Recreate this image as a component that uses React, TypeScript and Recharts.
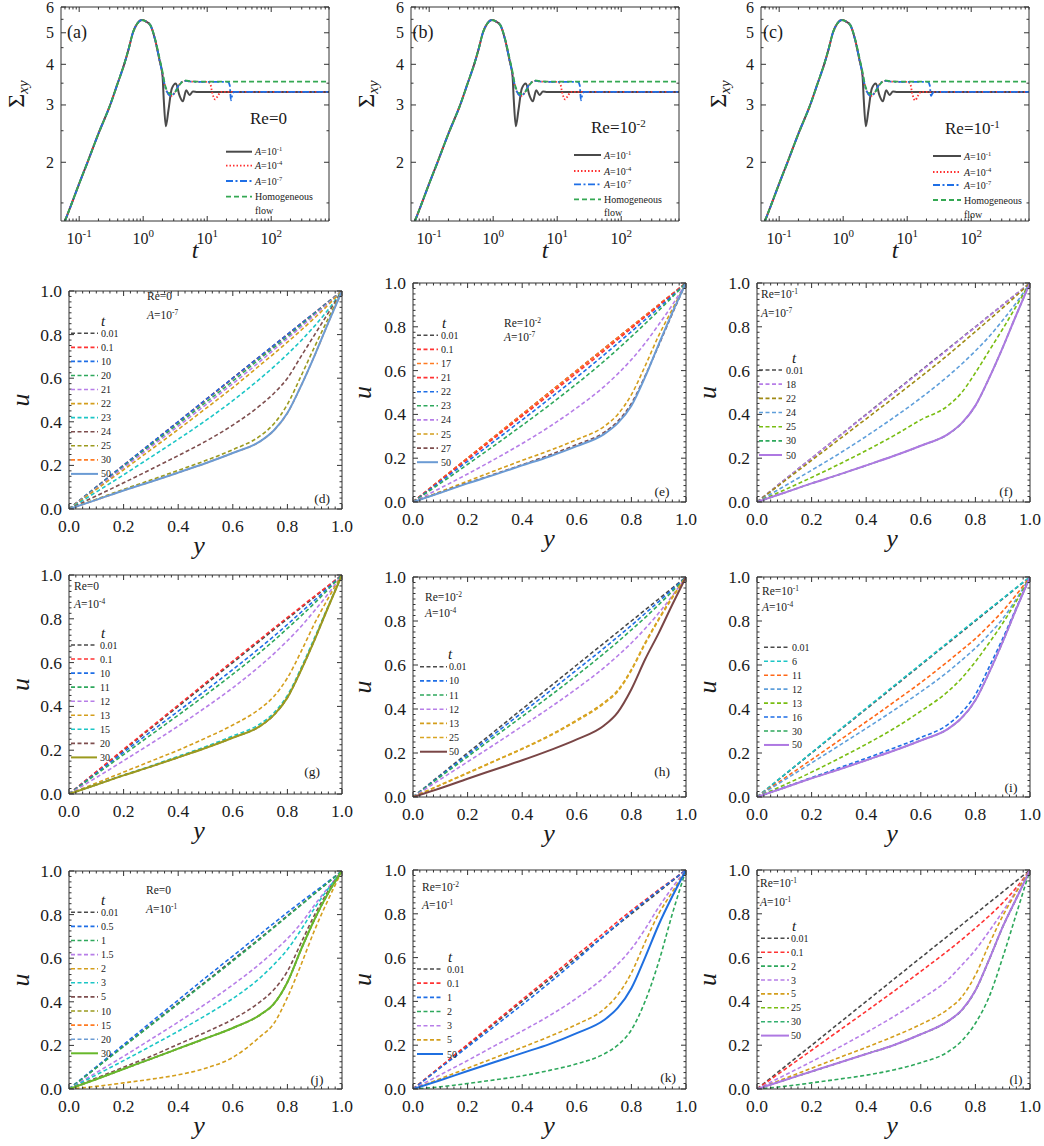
import React from 'react';
import { LineChart, Line, XAxis, YAxis } from 'recharts';

const SERIF = '"Liberation Serif", "Times New Roman", Times, serif';
const AXIS = '#333333';
const INK = '#1a1a1a';
const DASH = '4 2.5';

/* ---------- shear stress growth Σxy(t), panels (a)–(c) ---------- */
const tA1 = [0.06, 0.08, 0.1, 0.135, 0.2, 0.305, 0.4, 0.505, 0.6, 0.69, 0.8, 0.954, 1.1, 1.29, 1.54, 1.8, 2.0, 2.1, 2.26, 2.48, 2.8, 3.24, 3.69, 4.17, 4.7, 5.3, 6.0, 7, 10, 100, 800];
const sA1 = [1.32, 1.53, 1.72, 2.0, 2.45, 3.0, 3.5, 4.0, 4.5, 5.0, 5.32, 5.47, 5.42, 5.28, 4.75, 4.12, 3.71, 3.1, 2.58, 2.89, 3.37, 3.49, 3.21, 3.08, 3.33, 3.22, 3.3, 3.29, 3.29, 3.29, 3.29];

const tA4 = [0.06, 0.08, 0.1, 0.135, 0.2, 0.305, 0.4, 0.505, 0.6, 0.69, 0.8, 0.954, 1.1, 1.29, 1.54, 1.8, 2.0, 2.2, 2.5, 2.75, 3.1, 3.6, 4.5, 5.5, 10, 11.1, 12, 13.3, 14.7, 16.4, 100, 800];
const sA4 = [1.32, 1.53, 1.72, 2.0, 2.45, 3.0, 3.5, 4.0, 4.5, 5.0, 5.32, 5.47, 5.42, 5.28, 4.75, 4.12, 3.74, 3.42, 3.23, 3.2, 3.27, 3.45, 3.56, 3.54, 3.53, 3.5, 3.27, 3.12, 3.2, 3.29, 3.29, 3.29];

const tA7 = [0.06, 0.08, 0.1, 0.135, 0.2, 0.305, 0.4, 0.505, 0.6, 0.69, 0.8, 0.954, 1.1, 1.29, 1.54, 1.8, 2.0, 2.2, 2.5, 2.75, 3.1, 3.6, 4.5, 5.5, 10, 21, 22.5, 23.5, 24.5, 26, 100, 800];
const sA7 = [1.32, 1.53, 1.72, 2.0, 2.45, 3.0, 3.5, 4.0, 4.5, 5.0, 5.32, 5.47, 5.42, 5.28, 4.75, 4.12, 3.74, 3.42, 3.23, 3.2, 3.27, 3.45, 3.56, 3.54, 3.53, 3.53, 3.45, 3.1, 3.2, 3.29, 3.29, 3.29];

const tHom = [0.06, 0.08, 0.1, 0.135, 0.2, 0.305, 0.4, 0.505, 0.6, 0.69, 0.8, 0.954, 1.1, 1.29, 1.54, 1.8, 2.0, 2.2, 2.5, 2.8, 3.2, 3.8, 4.5, 5.5, 7, 10, 100, 800];
const sHom = [1.32, 1.53, 1.72, 2.0, 2.45, 3.0, 3.5, 4.0, 4.5, 5.0, 5.32, 5.47, 5.42, 5.28, 4.78, 4.18, 3.8, 3.45, 3.27, 3.24, 3.3, 3.48, 3.57, 3.55, 3.54, 3.54, 3.54, 3.54];

// Re = 10^-1 differs only in the late dips
const sA4c = [1.32, 1.53, 1.72, 2.0, 2.45, 3.0, 3.5, 4.0, 4.5, 5.0, 5.32, 5.47, 5.42, 5.28, 4.75, 4.12, 3.74, 3.42, 3.23, 3.2, 3.27, 3.45, 3.56, 3.54, 3.53, 3.5, 3.25, 3.1, 3.2, 3.29, 3.29, 3.29];
const sA7c = [1.32, 1.53, 1.72, 2.0, 2.45, 3.0, 3.5, 4.0, 4.5, 5.0, 5.32, 5.47, 5.42, 5.28, 4.75, 4.12, 3.74, 3.42, 3.23, 3.2, 3.27, 3.45, 3.56, 3.54, 3.53, 3.53, 3.45, 3.2, 3.24, 3.29, 3.29, 3.29];

const tMajor = [0.1, 1, 10, 100];
const tMinor = [0.06, 0.07, 0.08, 0.09, 0.2, 0.3, 0.4, 0.5, 0.6, 0.7, 0.8, 0.9, 2, 3, 4, 5, 6, 7, 8, 9, 20, 30, 40, 50, 60, 70, 80, 90, 200, 300, 400, 500, 600, 700, 800];
const sigMajor = [2, 3, 4, 5, 6];
const sigMinor = [1.5, 2.5, 3.5, 4.5, 5.5];

/* ---------- velocity profiles u(y), panels (d)–(l) ---------- */
const yGrid = [0, 0.1, 0.2, 0.3, 0.4, 0.5, 0.6, 0.7, 0.75, 0.8, 0.85, 0.9, 0.95, 1.0];
const uMajor = [0, 0.2, 0.4, 0.6, 0.8, 1.0];

// (d) Re=0, A=1e-7
const d001 = [0, 0.1, 0.2, 0.3, 0.4, 0.5, 0.6, 0.7, 0.75, 0.8, 0.85, 0.9, 0.95, 1];
const d01 = [0, 0.1, 0.2, 0.3, 0.4, 0.5, 0.6, 0.7, 0.75, 0.8, 0.85, 0.9, 0.95, 1];
const d10 = [0, 0.101, 0.201, 0.301, 0.401, 0.501, 0.601, 0.701, 0.751, 0.801, 0.851, 0.9, 0.95, 1];
const d20 = [0, 0.098, 0.195, 0.293, 0.39, 0.488, 0.587, 0.69, 0.74, 0.79, 0.843, 0.895, 0.948, 1];
const d21 = [0, 0.095, 0.19, 0.285, 0.38, 0.477, 0.575, 0.677, 0.73, 0.782, 0.835, 0.89, 0.945, 1];
const d22 = [0, 0.09, 0.18, 0.272, 0.365, 0.46, 0.557, 0.66, 0.712, 0.765, 0.82, 0.877, 0.937, 1];
const d23 = [0, 0.078, 0.157, 0.238, 0.32, 0.405, 0.497, 0.598, 0.652, 0.71, 0.772, 0.84, 0.915, 1];
const d24 = [0, 0.06, 0.12, 0.182, 0.245, 0.31, 0.385, 0.475, 0.53, 0.6, 0.7, 0.8, 0.9, 1];
const d25 = [0, 0.045, 0.09, 0.133, 0.177, 0.222, 0.272, 0.335, 0.39, 0.48, 0.61, 0.745, 0.875, 1];
const d30 = [0, 0.042, 0.085, 0.125, 0.167, 0.21, 0.257, 0.31, 0.36, 0.44, 0.565, 0.705, 0.855, 1];
const d50 = [0, 0.042, 0.085, 0.125, 0.167, 0.21, 0.257, 0.31, 0.36, 0.44, 0.565, 0.705, 0.855, 1];

// (e) Re=1e-2, A=1e-7
const e001 = [0, 0.1, 0.2, 0.3, 0.4, 0.5, 0.6, 0.7, 0.75, 0.8, 0.85, 0.9, 0.95, 1];
const e01 = [0, 0.1, 0.2, 0.3, 0.4, 0.5, 0.6, 0.7, 0.75, 0.8, 0.85, 0.9, 0.95, 1];
const e17 = [0, 0.101, 0.201, 0.301, 0.401, 0.501, 0.601, 0.701, 0.751, 0.801, 0.851, 0.9, 0.95, 1];
const e21 = [0, 0.098, 0.196, 0.294, 0.392, 0.49, 0.59, 0.69, 0.742, 0.793, 0.845, 0.896, 0.948, 1];
const e22 = [0, 0.093, 0.186, 0.28, 0.375, 0.472, 0.57, 0.672, 0.725, 0.778, 0.832, 0.886, 0.942, 1];
const e23 = [0, 0.085, 0.172, 0.26, 0.35, 0.443, 0.54, 0.643, 0.698, 0.755, 0.814, 0.874, 0.936, 1];
const e24 = [0, 0.063, 0.128, 0.196, 0.267, 0.344, 0.43, 0.527, 0.585, 0.65, 0.725, 0.81, 0.9, 1];
const e25 = [0, 0.047, 0.095, 0.143, 0.19, 0.235, 0.285, 0.345, 0.4, 0.49, 0.62, 0.76, 0.88, 1];
const e27 = [0, 0.043, 0.087, 0.128, 0.17, 0.215, 0.262, 0.318, 0.368, 0.45, 0.575, 0.715, 0.86, 1];
const e50 = [0, 0.042, 0.085, 0.125, 0.167, 0.208, 0.255, 0.31, 0.36, 0.44, 0.57, 0.72, 0.865, 1];

// (f) Re=1e-1, A=1e-7
const f001 = [0, 0.1, 0.2, 0.3, 0.4, 0.5, 0.6, 0.7, 0.75, 0.8, 0.85, 0.9, 0.95, 1];
const f18 = [0, 0.1, 0.2, 0.299, 0.398, 0.497, 0.597, 0.697, 0.748, 0.798, 0.849, 0.9, 0.95, 1];
const f22 = [0, 0.095, 0.19, 0.285, 0.38, 0.475, 0.572, 0.672, 0.725, 0.778, 0.832, 0.886, 0.942, 1];
const f24 = [0, 0.072, 0.145, 0.22, 0.3, 0.385, 0.475, 0.575, 0.63, 0.69, 0.755, 0.83, 0.91, 1];
const f25 = [0, 0.055, 0.112, 0.172, 0.235, 0.302, 0.375, 0.44, 0.5, 0.59, 0.69, 0.79, 0.895, 1];
const f30 = [0, 0.042, 0.085, 0.125, 0.167, 0.21, 0.257, 0.31, 0.36, 0.44, 0.565, 0.705, 0.855, 1];
const f50 = [0, 0.042, 0.085, 0.125, 0.167, 0.21, 0.257, 0.31, 0.36, 0.44, 0.565, 0.705, 0.855, 1];

// (g) Re=0, A=1e-4
const g001 = [0, 0.1, 0.2, 0.3, 0.4, 0.5, 0.6, 0.7, 0.75, 0.8, 0.85, 0.9, 0.95, 1];
const g01 = [0, 0.102, 0.204, 0.305, 0.406, 0.507, 0.607, 0.707, 0.757, 0.806, 0.855, 0.904, 0.952, 1];
const g10 = [0, 0.095, 0.19, 0.285, 0.378, 0.472, 0.568, 0.668, 0.72, 0.774, 0.83, 0.885, 0.942, 1];
const g11 = [0, 0.09, 0.18, 0.27, 0.36, 0.452, 0.547, 0.647, 0.7, 0.756, 0.813, 0.872, 0.935, 1];
const g12 = [0, 0.075, 0.152, 0.23, 0.31, 0.395, 0.485, 0.585, 0.64, 0.7, 0.765, 0.838, 0.915, 1];
const g13 = [0, 0.05, 0.1, 0.15, 0.2, 0.255, 0.315, 0.39, 0.445, 0.53, 0.65, 0.78, 0.895, 1];
const g15 = [0, 0.043, 0.087, 0.128, 0.172, 0.216, 0.265, 0.32, 0.37, 0.45, 0.575, 0.715, 0.86, 1];
const g20 = [0, 0.042, 0.085, 0.125, 0.167, 0.21, 0.257, 0.31, 0.36, 0.44, 0.565, 0.705, 0.855, 1];
const g30 = [0, 0.042, 0.085, 0.125, 0.167, 0.21, 0.257, 0.31, 0.36, 0.44, 0.565, 0.705, 0.855, 1];

// (h) Re=1e-2, A=1e-4
const h001 = [0, 0.1, 0.2, 0.3, 0.4, 0.5, 0.6, 0.7, 0.75, 0.8, 0.85, 0.9, 0.95, 1];
const h10 = [0, 0.096, 0.192, 0.288, 0.384, 0.48, 0.578, 0.677, 0.728, 0.78, 0.834, 0.888, 0.944, 1];
const h11 = [0, 0.092, 0.183, 0.275, 0.366, 0.458, 0.553, 0.653, 0.705, 0.76, 0.815, 0.874, 0.935, 1];
const h12 = [0, 0.08, 0.16, 0.24, 0.322, 0.405, 0.493, 0.588, 0.642, 0.7, 0.765, 0.836, 0.915, 1];
const h13 = [0, 0.055, 0.11, 0.165, 0.22, 0.28, 0.35, 0.43, 0.485, 0.58, 0.7, 0.81, 0.91, 1];
const h25 = [0, 0.054, 0.108, 0.163, 0.218, 0.277, 0.346, 0.425, 0.48, 0.575, 0.695, 0.805, 0.905, 1];
const h50 = [0, 0.04, 0.083, 0.125, 0.167, 0.212, 0.262, 0.325, 0.385, 0.49, 0.625, 0.745, 0.875, 1];

// (i) Re=1e-1, A=1e-4
const i001 = [0, 0.1, 0.2, 0.3, 0.4, 0.5, 0.6, 0.7, 0.75, 0.8, 0.85, 0.9, 0.95, 1];
const i6 = [0, 0.101, 0.202, 0.303, 0.404, 0.504, 0.604, 0.704, 0.754, 0.804, 0.854, 0.903, 0.952, 1];
const i11 = [0, 0.085, 0.17, 0.256, 0.342, 0.43, 0.52, 0.617, 0.668, 0.72, 0.78, 0.845, 0.92, 1];
const i12 = [0, 0.077, 0.155, 0.233, 0.312, 0.393, 0.478, 0.57, 0.622, 0.677, 0.74, 0.81, 0.9, 1];
const i13 = [0, 0.055, 0.113, 0.175, 0.24, 0.31, 0.39, 0.48, 0.54, 0.615, 0.7, 0.79, 0.89, 1];
const i16 = [0, 0.044, 0.088, 0.132, 0.176, 0.222, 0.27, 0.33, 0.385, 0.465, 0.59, 0.72, 0.86, 1];
const i30 = [0, 0.042, 0.085, 0.125, 0.167, 0.21, 0.257, 0.31, 0.36, 0.44, 0.565, 0.705, 0.855, 1];
const i50 = [0, 0.042, 0.085, 0.125, 0.167, 0.21, 0.257, 0.31, 0.36, 0.44, 0.565, 0.705, 0.855, 1];

// (j) Re=0, A=1e-1
const j001 = [0, 0.098, 0.197, 0.295, 0.394, 0.492, 0.592, 0.692, 0.743, 0.795, 0.846, 0.897, 0.949, 1];
const j05 = [0, 0.102, 0.204, 0.306, 0.408, 0.51, 0.61, 0.71, 0.76, 0.81, 0.858, 0.905, 0.952, 1];
const j1 = [0, 0.097, 0.195, 0.292, 0.39, 0.488, 0.587, 0.688, 0.74, 0.792, 0.844, 0.896, 0.948, 1];
const j15 = [0, 0.075, 0.15, 0.228, 0.307, 0.39, 0.478, 0.575, 0.63, 0.69, 0.76, 0.845, 0.925, 1];
const j2 = [0, 0.012, 0.028, 0.045, 0.065, 0.095, 0.145, 0.24, 0.3, 0.42, 0.57, 0.73, 0.87, 1];
const j3 = [0, 0.065, 0.13, 0.197, 0.265, 0.337, 0.415, 0.51, 0.57, 0.64, 0.73, 0.83, 0.92, 1];
const j5 = [0, 0.05, 0.1, 0.15, 0.205, 0.26, 0.32, 0.4, 0.455, 0.54, 0.67, 0.8, 0.91, 1];
const j10 = [0, 0.045, 0.092, 0.138, 0.185, 0.232, 0.28, 0.34, 0.39, 0.49, 0.64, 0.78, 0.9, 1];
const j15b = [0, 0.045, 0.092, 0.138, 0.185, 0.232, 0.28, 0.34, 0.39, 0.49, 0.64, 0.78, 0.9, 1];
const j20 = [0, 0.045, 0.092, 0.138, 0.185, 0.232, 0.28, 0.34, 0.39, 0.49, 0.64, 0.78, 0.9, 1];
const j30 = [0, 0.045, 0.092, 0.138, 0.185, 0.232, 0.28, 0.34, 0.39, 0.49, 0.64, 0.78, 0.9, 1];

// (k) Re=1e-2, A=1e-1
const k001 = [0, 0.1, 0.2, 0.3, 0.4, 0.5, 0.6, 0.7, 0.75, 0.8, 0.85, 0.9, 0.95, 1];
const k01 = [0, 0.102, 0.204, 0.306, 0.408, 0.51, 0.612, 0.713, 0.765, 0.815, 0.862, 0.91, 0.955, 1];
const k1 = [0, 0.096, 0.192, 0.288, 0.385, 0.485, 0.59, 0.7, 0.753, 0.806, 0.857, 0.906, 0.953, 1];
const k2 = [0, 0.01, 0.025, 0.042, 0.06, 0.085, 0.115, 0.16, 0.2, 0.27, 0.4, 0.58, 0.8, 1];
const k3 = [0, 0.065, 0.13, 0.198, 0.265, 0.335, 0.415, 0.51, 0.57, 0.64, 0.73, 0.83, 0.92, 1];
const k5 = [0, 0.047, 0.095, 0.143, 0.19, 0.24, 0.295, 0.365, 0.43, 0.53, 0.67, 0.8, 0.9, 1];
const k50 = [0, 0.04, 0.082, 0.123, 0.164, 0.205, 0.255, 0.315, 0.37, 0.46, 0.6, 0.75, 0.88, 1];

// (l) Re=1e-1, A=1e-1
const l001 = [0, 0.1, 0.2, 0.3, 0.4, 0.5, 0.6, 0.7, 0.75, 0.8, 0.85, 0.9, 0.95, 1];
const l01 = [0, 0.088, 0.177, 0.266, 0.355, 0.445, 0.537, 0.632, 0.682, 0.735, 0.79, 0.85, 0.92, 1];
const l2 = [0, 0.012, 0.028, 0.045, 0.063, 0.087, 0.12, 0.17, 0.22, 0.3, 0.42, 0.6, 0.8, 1];
const l3 = [0, 0.062, 0.125, 0.19, 0.258, 0.33, 0.41, 0.5, 0.565, 0.635, 0.72, 0.81, 0.905, 1];
const l5 = [0, 0.047, 0.095, 0.143, 0.19, 0.24, 0.295, 0.365, 0.42, 0.52, 0.66, 0.79, 0.9, 1];
const l25 = [0, 0.04, 0.08, 0.12, 0.16, 0.2, 0.25, 0.31, 0.36, 0.45, 0.59, 0.74, 0.87, 1];
const l30 = [0, 0.04, 0.08, 0.12, 0.16, 0.2, 0.25, 0.31, 0.36, 0.45, 0.59, 0.74, 0.87, 1];
const l50 = [0, 0.04, 0.08, 0.12, 0.16, 0.2, 0.25, 0.31, 0.36, 0.45, 0.59, 0.74, 0.87, 1];

/* ---------- styling ---------- */
const COL = {
  gray: '#4a4a4a', red: '#ff3333', blue: '#1e6ee6', green: '#2ea85c', lilac: '#b77ee8',
  gold: '#d49e1c', cyan: '#1cc6c6', brown: '#7e4e4e', olive: '#9b9a1e', orange: '#ff7b22',
  steel: '#6b9bd4', ygreen: '#79bd12', lblue: '#5f9fdb', olive2: '#a08a14', sGreen: '#67b82a',
  sBrown: '#7a4646', sLilac: '#ae78e2', orange2: '#ff6818', sBlue: '#1f6fe0',
};

type Curve = { label: string; v: number[]; color: string; solid?: boolean };
type SCurve = { t: number[]; s: number[]; color: string; dash?: string; width: number };

const fineTicks = Array.from({ length: 41 }, (_, i) => +(i * 0.025).toFixed(3));

const isMajor = (v: number, majors: number[]) =>
  majors.some((m) => Math.abs(m - v) <= 1e-6 * Math.max(1, Math.abs(m)));

type Side = 'bottom' | 'top' | 'left' | 'right';

function makeTick(side: Side, majors: number[], fmt: ((v: number) => React.ReactNode) | null, fs: number, gap: number) {
  return (p: any) => {
    const v = p.payload.value as number;
    const major = isMajor(v, majors);
    const len = major ? 5 : 2.5;
    const x = p.x as number;
    const y = p.y as number;
    let line: React.ReactNode;
    if (side === 'bottom') line = <line x1={x} y1={y} x2={x} y2={y - len} />;
    else if (side === 'top') line = <line x1={x} y1={y} x2={x} y2={y + len} />;
    else if (side === 'left') line = <line x1={x} y1={y} x2={x + len} y2={y} />;
    else line = <line x1={x} y1={y} x2={x - len} y2={y} />;
    let label: React.ReactNode = null;
    if (major && fmt) {
      if (side === 'bottom') {
        label = (
          <text x={x} y={y + gap} textAnchor="middle" fontSize={fs} fontFamily={SERIF} fill={INK}>
            {fmt(v)}
          </text>
        );
      } else if (side === 'left') {
        label = (
          <text x={x - gap} y={y} textAnchor="end" dominantBaseline="central" fontSize={fs} fontFamily={SERIF} fill={INK}>
            {fmt(v)}
          </text>
        );
      }
    }
    return (
      <g>
        <g stroke={AXIS} strokeWidth={1}>{line}</g>
        {label}
      </g>
    );
  };
}

const linFmt = (v: number) => v.toFixed(1);
const logFmt = (v: number) => {
  const e = Math.round(Math.log10(v));
  return (
    <>
      10<tspan dy={-7} fontSize={11}>{e}</tspan>
    </>
  );
};
const intFmt = (v: number) => String(v);

type PlotProps = {
  px: number; py: number; pw: number; ph: number;
  log?: boolean;
  xDomain: [number, number]; yDomain: [number, number];
  xTicks: number[]; xMajors: number[]; xFmt: (v: number) => React.ReactNode;
  yTicks: number[]; yMajors: number[]; yFmt: (v: number) => React.ReactNode;
  fs: number;
  children: React.ReactNode;
};

function Plot(props: PlotProps) {
  const { px, py, pw, ph, log, xDomain, yDomain, xTicks, xMajors, xFmt, yTicks, yMajors, yFmt, fs } = props;
  const padL = 50;
  const padB = 34;
  const mTop = 10;
  const mRight = 18;
  const W = padL + pw + 1 + mRight;
  const H = mTop + 1 + ph + padB;
  const scale = log ? 'log' : 'linear';
  return (
    <div style={{ position: 'absolute', left: px - padL, top: py - mTop - 1 }}>
      <LineChart width={W} height={H} margin={{ top: mTop, right: mRight, bottom: 0, left: 0 }}>
        <XAxis xAxisId="b" dataKey="x" type="number" scale={scale} domain={xDomain} allowDataOverflow
          ticks={xTicks} interval={0} height={padB} tickSize={0} tickMargin={0} tickLine={false}
          axisLine={{ stroke: AXIS, strokeWidth: 1 }} tick={makeTick('bottom', xMajors, xFmt, fs, 23)} />
        <XAxis xAxisId="t" orientation="top" dataKey="x" type="number" scale={scale} domain={xDomain} allowDataOverflow
          ticks={xTicks} interval={0} height={1} tickSize={0} tickMargin={0} tickLine={false}
          axisLine={{ stroke: AXIS, strokeWidth: 1 }} tick={makeTick('top', xMajors, null, fs, 0)} />
        <YAxis yAxisId="l" type="number" scale={scale} domain={yDomain} allowDataOverflow
          ticks={yTicks} interval={0} width={padL} tickSize={0} tickMargin={0} tickLine={false}
          axisLine={{ stroke: AXIS, strokeWidth: 1 }} tick={makeTick('left', yMajors, yFmt, fs, 7)} />
        <YAxis yAxisId="r" orientation="right" type="number" scale={scale} domain={yDomain} allowDataOverflow
          ticks={yTicks} interval={0} width={1} tickSize={0} tickMargin={0} tickLine={false}
          axisLine={{ stroke: AXIS, strokeWidth: 1 }} tick={makeTick('right', yMajors, null, fs, 0)} />
        {props.children}
      </LineChart>
    </div>
  );
}

function profileLines(curves: Curve[]) {
  return curves.map((c, i) => (
    <Line key={i} xAxisId="b" yAxisId="l" data={yGrid.map((y, k) => ({ x: y, u: c.v[k] }))} dataKey="u"
      type="monotone" stroke={c.color} strokeWidth={c.solid ? 2 : 1.6}
      strokeDasharray={c.solid ? undefined : DASH} dot={false} activeDot={false} isAnimationActive={false} />
  ));
}

function stressLines(curves: SCurve[]) {
  return curves.map((c, i) => (
    <Line key={i} xAxisId="b" yAxisId="l" data={c.t.map((t, k) => ({ x: t, u: c.s[k] }))} dataKey="u"
      type="monotone" stroke={c.color} strokeWidth={c.width} strokeDasharray={c.dash}
      dot={false} activeDot={false} isAnimationActive={false} />
  ));
}

/* ---------- series definitions ---------- */
const STY = {
  a1: { color: '#4a4a4a', width: 2 },
  a4: { color: '#ff3030', width: 1.8, dash: '1.5 2' },
  a7: { color: '#1f6fe6', width: 1.8, dash: '7 2.5 2 2.5' },
  hom: { color: '#34a853', width: 1.8, dash: '5 3' },
};

const stressAB: SCurve[] = [
  { t: tA1, s: sA1, ...STY.a1 },
  { t: tA4, s: sA4, ...STY.a4 },
  { t: tA7, s: sA7, ...STY.a7 },
  { t: tHom, s: sHom, ...STY.hom },
];
const stressC: SCurve[] = [
  { t: tA1, s: sA1, ...STY.a1 },
  { t: tA4, s: sA4c, ...STY.a4 },
  { t: tA7, s: sA7c, ...STY.a7 },
  { t: tHom, s: sHom, ...STY.hom },
];

const dCurves: Curve[] = [
  { label: '0.01', v: d001, color: COL.gray }, { label: '0.1', v: d01, color: COL.red },
  { label: '10', v: d10, color: COL.blue }, { label: '20', v: d20, color: COL.green },
  { label: '21', v: d21, color: COL.lilac }, { label: '22', v: d22, color: COL.gold },
  { label: '23', v: d23, color: COL.cyan }, { label: '24', v: d24, color: COL.brown },
  { label: '25', v: d25, color: COL.olive }, { label: '30', v: d30, color: COL.orange },
  { label: '50', v: d50, color: COL.steel, solid: true },
];
const eCurves: Curve[] = [
  { label: '0.01', v: e001, color: COL.gray }, { label: '0.1', v: e01, color: COL.red },
  { label: '17', v: e17, color: COL.orange }, { label: '21', v: e21, color: COL.red },
  { label: '22', v: e22, color: COL.blue }, { label: '23', v: e23, color: COL.green },
  { label: '24', v: e24, color: COL.lilac }, { label: '25', v: e25, color: COL.gold },
  { label: '27', v: e27, color: COL.brown }, { label: '50', v: e50, color: COL.steel, solid: true },
];
const fCurves: Curve[] = [
  { label: '0.01', v: f001, color: COL.gray }, { label: '18', v: f18, color: COL.lilac },
  { label: '22', v: f22, color: COL.olive2 }, { label: '24', v: f24, color: COL.lblue },
  { label: '25', v: f25, color: COL.ygreen }, { label: '30', v: f30, color: COL.green },
  { label: '50', v: f50, color: COL.sLilac, solid: true },
];
const gCurves: Curve[] = [
  { label: '0.01', v: g001, color: COL.gray }, { label: '0.1', v: g01, color: COL.red },
  { label: '10', v: g10, color: COL.blue }, { label: '11', v: g11, color: COL.green },
  { label: '12', v: g12, color: COL.lilac }, { label: '13', v: g13, color: COL.gold },
  { label: '15', v: g15, color: COL.cyan }, { label: '20', v: g20, color: COL.brown },
  { label: '30', v: g30, color: COL.olive, solid: true },
];
const hCurves: Curve[] = [
  { label: '0.01', v: h001, color: COL.gray }, { label: '10', v: h10, color: COL.blue },
  { label: '11', v: h11, color: COL.green }, { label: '12', v: h12, color: COL.lilac },
  { label: '13', v: h13, color: COL.gold }, { label: '25', v: h25, color: '#d9a521' },
  { label: '50', v: h50, color: COL.sBrown, solid: true },
];
const iCurves: Curve[] = [
  { label: '0.01', v: i001, color: COL.gray }, { label: '6', v: i6, color: COL.cyan },
  { label: '11', v: i11, color: COL.orange2 }, { label: '12', v: i12, color: COL.lblue },
  { label: '13', v: i13, color: COL.ygreen }, { label: '16', v: i16, color: COL.blue },
  { label: '30', v: i30, color: COL.green }, { label: '50', v: i50, color: COL.sLilac, solid: true },
];
const jCurves: Curve[] = [
  { label: '0.01', v: j001, color: COL.gray }, { label: '0.5', v: j05, color: COL.blue },
  { label: '1', v: j1, color: COL.green }, { label: '1.5', v: j15, color: COL.lilac },
  { label: '2', v: j2, color: COL.gold }, { label: '3', v: j3, color: COL.cyan },
  { label: '5', v: j5, color: COL.brown }, { label: '10', v: j10, color: COL.olive },
  { label: '15', v: j15b, color: COL.orange }, { label: '20', v: j20, color: COL.steel },
  { label: '30', v: j30, color: COL.sGreen, solid: true },
];
const kCurves: Curve[] = [
  { label: '0.01', v: k001, color: COL.gray }, { label: '0.1', v: k01, color: COL.red },
  { label: '1', v: k1, color: COL.blue }, { label: '2', v: k2, color: COL.green },
  { label: '3', v: k3, color: COL.lilac }, { label: '5', v: k5, color: COL.gold },
  { label: '50', v: k50, color: COL.sBlue, solid: true },
];
const lCurves: Curve[] = [
  { label: '0.01', v: l001, color: COL.gray }, { label: '0.1', v: l01, color: COL.red },
  { label: '2', v: l2, color: COL.green }, { label: '3', v: l3, color: COL.lilac },
  { label: '5', v: l5, color: COL.gold }, { label: '25', v: l25, color: COL.ygreen },
  { label: '30', v: l30, color: '#33b070' }, { label: '50', v: l50, color: COL.sLilac, solid: true },
];

/* ---------- layout ---------- */
const uPanels = [
  { id: 'd', px: 69, py: 291, pw: 273, ph: 218, curves: dCurves },
  { id: 'e', px: 413, py: 283, pw: 273, ph: 219, curves: eCurves },
  { id: 'f', px: 757, py: 283, pw: 273, ph: 219, curves: fCurves },
  { id: 'g', px: 69, py: 575, pw: 273, ph: 219, curves: gCurves },
  { id: 'h', px: 413, py: 577, pw: 273, ph: 220, curves: hCurves },
  { id: 'i', px: 757, py: 577, pw: 273, ph: 220, curves: iCurves },
  { id: 'j', px: 69, py: 871, pw: 273, ph: 218, curves: jCurves },
  { id: 'k', px: 413, py: 870, pw: 273, ph: 219, curves: kCurves },
  { id: 'l', px: 757, py: 870, pw: 273, ph: 219, curves: lCurves },
];

const keyLayout: Record<string, { titleX?: number; x0: number; x1: number; tx: number; y0: number; dy: number; re: string; reAt: [number, number]; aExp: string; aAt: [number, number]; tag: [number, number]; uX: number; yX: number }> = {
  d: { titleX: 103, x0: 71, x1: 98, tx: 101, y0: 333.3, dy: 14.06, re: '0', reAt: [147, 300], aExp: '-7', aAt: [147, 319], tag: [322, 503], uX: 20, yX: 199 },
  e: { titleX: 444, x0: 417, x1: 438, tx: 441, y0: 335.3, dy: 14.1, re: '-2', reAt: [504, 327], aExp: '-7', aAt: [504, 341], tag: [662, 496], uX: 362, yX: 549 },
  f: { titleX: 794, x0: 759, x1: 782, tx: 786, y0: 370, dy: 14.17, re: '-1', reAt: [761, 298], aExp: '-7', aAt: [761, 317], tag: [1006, 496], uX: 707, yX: 892 },
  g: { titleX: 103, x0: 71, x1: 97, tx: 100, y0: 645, dy: 14.05, re: '0', reAt: [74, 590], aExp: '-4', aAt: [74, 608], tag: [312, 776], uX: 20, yX: 199 },
  h: { titleX: 450, x0: 420, x1: 447, tx: 449, y0: 666.7, dy: 14.17, re: '-2', reAt: [425, 601], aExp: '-4', aAt: [425, 617], tag: [662, 776], uX: 362, yX: 549 },
  i: { x0: 764, x1: 789, tx: 792, y0: 647.3, dy: 13.95, re: '-1', reAt: [762, 595], aExp: '-4', aAt: [762, 611], tag: [1011, 792], uX: 707, yX: 892 },
  j: { titleX: 103, x0: 71, x1: 98, tx: 101, y0: 912.3, dy: 14.1, re: '0', reAt: [146, 894], aExp: '-1', aAt: [146, 913], tag: [317, 1084], uX: 20, yX: 199 },
  k: { titleX: 450, x0: 417, x1: 443, tx: 447, y0: 969, dy: 14.17, re: '-2', reAt: [422, 891], aExp: '-1', aAt: [422, 909], tag: [668, 1082], uX: 362, yX: 549 },
  l: { titleX: 794, x0: 761, x1: 789, tx: 791, y0: 938.3, dy: 13.9, re: '-1', reAt: [760, 887], aExp: '-1', aAt: [760, 906], tag: [1016, 1084], uX: 707, yX: 892 },
};

const stressPanels = [
  { id: 'a', px: 61, curves: stressAB, re: '0', reAt: [250, 124], tag: [77, 38], key: { x0: 226, x1: 252, tx: 255, rows: [151.7, 165.7, 181, 196.7], flow: 210.5 }, sigX: 24, tX: 195 },
  { id: 'b', px: 411, curves: stressAB, re: '-2', reAt: [591, 133], tag: [423, 38], key: { x0: 574, x1: 601, tx: 604, rows: [155, 171, 184.3, 199.3], flow: 212 }, sigX: 374, tX: 545 },
  { id: 'c', px: 761, curves: stressC, re: '-1', reAt: [945, 134], tag: [773, 38], key: { x0: 933, x1: 961, tx: 964, rows: [156, 172, 185, 200], flow: 214 }, sigX: 726, tX: 895 },
];

function ReText({ x, y, exp, fs }: { x: number; y: number; exp: string; fs: number }) {
  return (
    <text x={x} y={y} fontSize={fs} fontFamily={SERIF} fill={INK}>
      {exp === '0' ? 'Re=0' : (<>Re=10<tspan dy={-fs * 0.38} fontSize={fs * 0.65}>{exp}</tspan></>)}
    </text>
  );
}

function AText({ x, y, exp, fs }: { x: number; y: number; exp: string; fs: number }) {
  return (
    <text x={x} y={y} fontSize={fs} fontFamily={SERIF} fill={INK}>
      <tspan fontStyle="italic">A</tspan>=10<tspan dy={-fs * 0.38} fontSize={fs * 0.65}>{exp}</tspan>
    </text>
  );
}

function Annotations() {
  const stressKeys = [
    { ...STY.a1, exp: '-1' },
    { ...STY.a4, exp: '-4' },
    { ...STY.a7, exp: '-7' },
  ];
  return (
    <svg width={1044} height={1146} style={{ position: 'absolute', left: 0, top: 0, pointerEvents: 'none' }}>
      {stressPanels.map((p) => (
        <g key={p.id}>
          <text x={p.tag[0]} y={p.tag[1]} textAnchor="middle" fontSize={18} fontFamily={SERIF} fill={INK}>({p.id})</text>
          <ReText x={p.reAt[0]} y={p.reAt[1]} exp={p.re} fs={17} />
          {stressKeys.map((k, i) => (
            <g key={i}>
              <line x1={p.key.x0} x2={p.key.x1} y1={p.key.rows[i]} y2={p.key.rows[i]} stroke={k.color} strokeWidth={k.width} strokeDasharray={(k as any).dash} />
              <AText x={p.key.tx} y={p.key.rows[i] + 3.5} exp={k.exp} fs={10} />
            </g>
          ))}
          <line x1={p.key.x0} x2={p.key.x1} y1={p.key.rows[3]} y2={p.key.rows[3]} stroke={STY.hom.color} strokeWidth={STY.hom.width} strokeDasharray={STY.hom.dash} />
          <text x={p.key.tx} y={p.key.rows[3] + 3.5} fontSize={10} fontFamily={SERIF} fill={INK}>Homogeneous</text>
          <text x={p.key.tx} y={p.key.flow + 3.5} fontSize={10} fontFamily={SERIF} fill={INK}>flow</text>
          <text x={p.tX} y={258} textAnchor="middle" fontSize={24} fontStyle="italic" fontFamily={SERIF} fill={INK}>t</text>
          <text x={p.sigX} y={94} transform={`rotate(-90 ${p.sigX} 94)`} textAnchor="middle" fontSize={24} fontFamily={SERIF} fill={INK}>
            Σ<tspan fontStyle="italic" fontSize={15} dy={4}>xy</tspan>
          </text>
        </g>
      ))}
      {uPanels.map((p) => {
        const L = keyLayout[p.id];
        const cy = p.py + p.ph / 2;
        return (
          <g key={p.id}>
            {L.titleX !== undefined && (
              <text x={L.titleX} y={L.y0 - 7.5} textAnchor="middle" fontSize={15} fontStyle="italic" fontFamily={SERIF} fill={INK}>t</text>
            )}
            {p.curves.map((c, i) => {
              const y = L.y0 + i * L.dy;
              return (
                <g key={i}>
                  <line x1={L.x0} x2={L.x1} y1={y} y2={y} stroke={c.color} strokeWidth={c.solid ? 2 : 1.6} strokeDasharray={c.solid ? undefined : DASH} />
                  <text x={L.tx} y={y + 3.5} fontSize={10} fontFamily={SERIF} fill={INK}>{c.label}</text>
                </g>
              );
            })}
            <ReText x={L.reAt[0]} y={L.reAt[1]} exp={L.re} fs={11.5} />
            <AText x={L.aAt[0]} y={L.aAt[1]} exp={L.aExp} fs={11.5} />
            <text x={L.tag[0]} y={L.tag[1]} textAnchor="middle" fontSize={13.5} fontFamily={SERIF} fill={INK}>({p.id})</text>
            <text x={L.uX} y={cy} transform={`rotate(-90 ${L.uX} ${cy})`} textAnchor="middle" dominantBaseline="central" fontSize={26} fontStyle="italic" fontFamily={SERIF} fill={INK}>u</text>
            <text x={L.yX} y={p.py + p.ph + 45} textAnchor="middle" fontSize={26} fontStyle="italic" fontFamily={SERIF} fill={INK}>y</text>
          </g>
        );
      })}
    </svg>
  );
}

export default function App() {
  return (
    <div style={{ position: 'absolute', left: 0, top: 0, width: 1044, height: 1146, background: '#ffffff', fontFamily: SERIF }}>
      {stressPanels.map((p) => (
        <Plot key={p.id} px={p.px} py={7} pw={268} ph={214} log
          xDomain={[0.052, 800]} yDomain={[1.32, 6]}
          xTicks={[...tMajor, ...tMinor].sort((a, b) => a - b)} xMajors={tMajor} xFmt={logFmt}
          yTicks={[...sigMajor, ...sigMinor].sort((a, b) => a - b)} yMajors={sigMajor} yFmt={intFmt} fs={16}>
          {stressLines(p.curves)}
        </Plot>
      ))}
      {uPanels.map((p) => (
        <Plot key={p.id} px={p.px} py={p.py} pw={p.pw} ph={p.ph}
          xDomain={[0, 1]} yDomain={[0, 1]}
          xTicks={fineTicks} xMajors={uMajor} xFmt={linFmt}
          yTicks={fineTicks} yMajors={uMajor} yFmt={linFmt} fs={17.5}>
          {profileLines(p.curves)}
        </Plot>
      ))}
      <Annotations />
    </div>
  );
}
